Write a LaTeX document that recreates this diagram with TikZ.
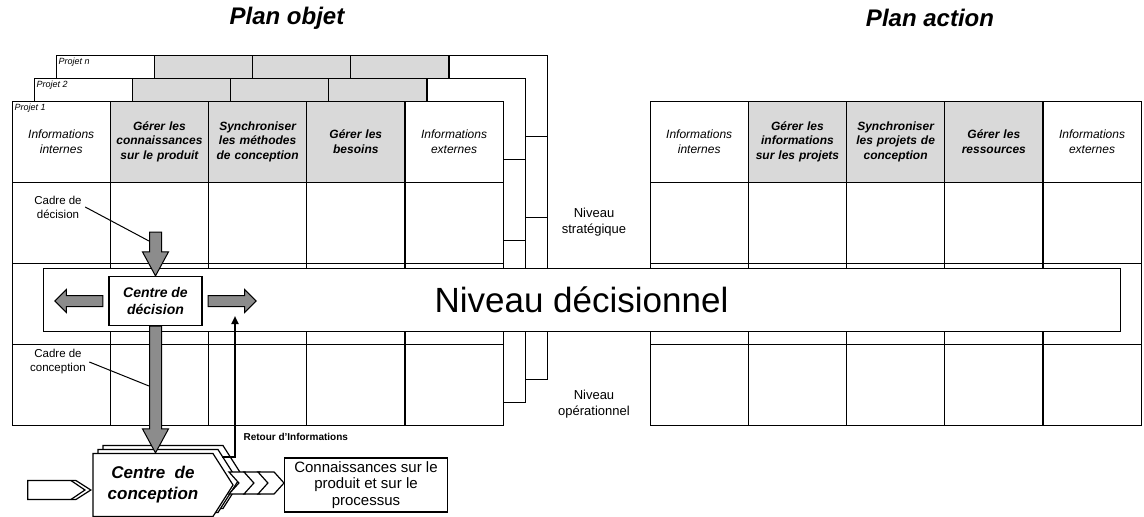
\documentclass[tikz,border=0pt]{standalone}
\usepackage{fontspec}
\setmainfont{Liberation Sans}
\usetikzlibrary{matrix}
\usetikzlibrary{arrows.meta,shapes.arrows,shapes.symbols}
\usetikzlibrary{positioning,calc}

\colorlet{gristete}{black!15}
\colorlet{grisfleche}{black!45}

% grosse fleche grise vers le bas, de #1 jusqu'a #2
\newcommand{\flechebas}[2]{%
  \filldraw[fill=grisfleche, line width=1pt] let \p1=(#1), \p2=(#2) in
    (\x1-6pt,\y1) -- (\x1+6pt,\y1) -- (\x1+6pt,\y2+24pt) -- (\x1+13pt,\y2+24pt)
    -- (\x1,\y2) -- (\x1-13pt,\y2+24pt) -- (\x1-6pt,\y2+24pt) -- cycle;}

\begin{document}
\begin{tikzpicture}[x=1pt,y=-1pt,
  feuille/.style={matrix of nodes, nodes in empty cells, anchor=north west,
    column sep=-1.2pt, row sep=-1.2pt,
    nodes={draw, line width=1.2pt, fill=white, anchor=center, minimum width=98.2pt,
      minimum height=81pt, inner sep=1pt, text width=96pt, align=center,
      font=\fontsize{12}{14.5}\selectfont\itshape}},
  gris/.style={fill=gristete, font=\fontsize{12}{14.5}\selectfont\bfseries\itshape},
  projet/.style={anchor=north west, inner sep=3pt, font=\fontsize{9}{10}\selectfont\itshape},
  titre/.style={font=\fontsize{24}{28}\selectfont\bfseries\itshape},
  niveau/.style={align=center, font=\fontsize{13}{16}\selectfont},
  cadre/.style={align=center, font=\fontsize{11.5}{14}\selectfont},
  blocfl/.style={single arrow, draw, fill=grisfleche, line width=1pt,
    minimum height=48pt, single arrow head extend=6pt, inner sep=5pt},
  ccforme/.style={signal, signal to=east, signal pointer angle=115, draw, fill=white,
    line width=1.2pt, minimum width=140pt, minimum height=63pt, align=center,
    font=\fontsize{17}{21}\selectfont\bfseries\itshape},
  chev/.style={signal, signal from=west, signal to=east, signal pointer angle=96,
    draw, fill=white, line width=1.2pt, minimum width=26pt, minimum height=22pt, inner sep=0pt},
  ]
\useasboundingbox (0,0) rectangle (1144,517);

\node[titre] (tobj) at (287,18) {Plan objet};
\node[titre] (tact) at (930,18) {Plan action};

%% plan objet : les projets empiles
\matrix (pn) [feuille] at (52,51)
{
 & |[gris]| & |[gris]| & |[gris]| & \\
 & & & & \\
 & & & & \\
 & & & & \\
};
\node[projet] at (pn-1-1.north west) {Projet n};

\matrix (p2) [feuille] at (30,74)
{
 & |[gris]| & |[gris]| & |[gris]| & \\
 & & & & \\
 & & & & \\
 & & & & \\
};
\node[projet] at (p2-1-1.north west) {Projet 2};

\matrix (p1) [feuille] at (8,97)
{
{Informations\\internes} & |[gris]| {Gérer les\\connaissances\\sur le produit}
 & |[gris]| {Synchroniser\\les méthodes\\de conception} & |[gris]| {Gérer les\\besoins}
 & {Informations\\externes} \\
 & & & & \\
 & & & & \\
 & & & & \\
};
\node[projet] at (p1-1-1.north west) {Projet 1};

%% plan action
\matrix (pa) [feuille] at (646,97)
{
{Informations\\internes} & |[gris]| {Gérer les\\informations\\sur les projets}
 & |[gris]| {Synchroniser\\les projets de\\conception} & |[gris]| {Gérer les\\ressources}
 & {Informations\\externes} \\
 & & & & \\
 & & & & \\
 & & & & \\
};

\node[niveau] (nivstrat) at (594,222) {Niveau\\stratégique};
\node[niveau] (nivop) at (594,404) {Niveau\\opérationnel};

\node[draw, line width=1pt, fill=white, minimum width=1077pt, minimum height=63pt,
  font=\fontsize{35}{38}\selectfont] (nivdec) at (581.5,299.5) {Niveau décisionnel\hspace{8pt}};

%% centre de decision
\node[draw, line width=1.2pt, fill=white, minimum width=93pt, minimum height=49pt,
  align=center, inner sep=2pt, font=\fontsize{14}{17}\selectfont\bfseries\itshape]
  (cdec) at (155.5,301) {Centre de\\décision};
\node[blocfl, shape border rotate=180, left=5pt of cdec] (flg) {};
\node[blocfl, right=5pt of cdec] (fld) {};

\coordinate (hautdec) at (155.5,232);
\flechebas{hautdec}{cdec.north}

\node[cadre] (lbldec) at (58,207) {Cadre de\\décision};
\coordinate (pdec) at (149,241);
\draw[line width=1pt] (lbldec.east) -- (pdec);

%% centre de conception
\node[ccforme] (cc3) at (163,477) {};
\node[ccforme] (cc2) at (158,481) {};
\node[ccforme] (cc) at (153,485) {Centre~ de\\conception};

\node[chev] (ch1) at (242,483) {};
\node[chev] (ch2) at (257,483) {};
\node[chev] (ch3) at (271,483) {};

\node[signal, signal to=east, signal pointer angle=65, draw, fill=white, line width=1.2pt,
  minimum width=63pt, minimum height=19pt, inner sep=0pt, left=0.5pt of cc,
  yshift=-5pt] (entree) {};
\draw[line width=1.2pt] ($(entree.east)+(-21,-9.5)$) -- ($(entree.east)+(-7,0)$)
  -- ($(entree.east)+(-21,9.5)$);

\flechebas{cdec.south}{cc.north}

\node[cadre] (lblconc) at (58,362) {Cadre de\\conception};
\coordinate (pconc) at (149,386);
\draw[line width=1pt] (lblconc.east) -- (pconc);

\node[draw, line width=1.2pt, fill=white, minimum width=163pt, minimum height=54pt,
  align=center, font=\fontsize{15}{16.5}\selectfont]
  (connais) at (366,485) {Connaissances sur le\\produit et sur le\\processus};

%% retour d'informations
\coordinate (retpied) at (222,457);
\coordinate (rettip) at (235,316);
\draw[line width=2.5pt, -{Triangle[length=8pt,width=7pt]}] (retpied) -| (rettip);
\node[anchor=west, font=\fontsize{10}{12}\selectfont\bfseries] (lblret) at (240,437)
  {Retour d'Informations};

\end{tikzpicture}
\end{document}
